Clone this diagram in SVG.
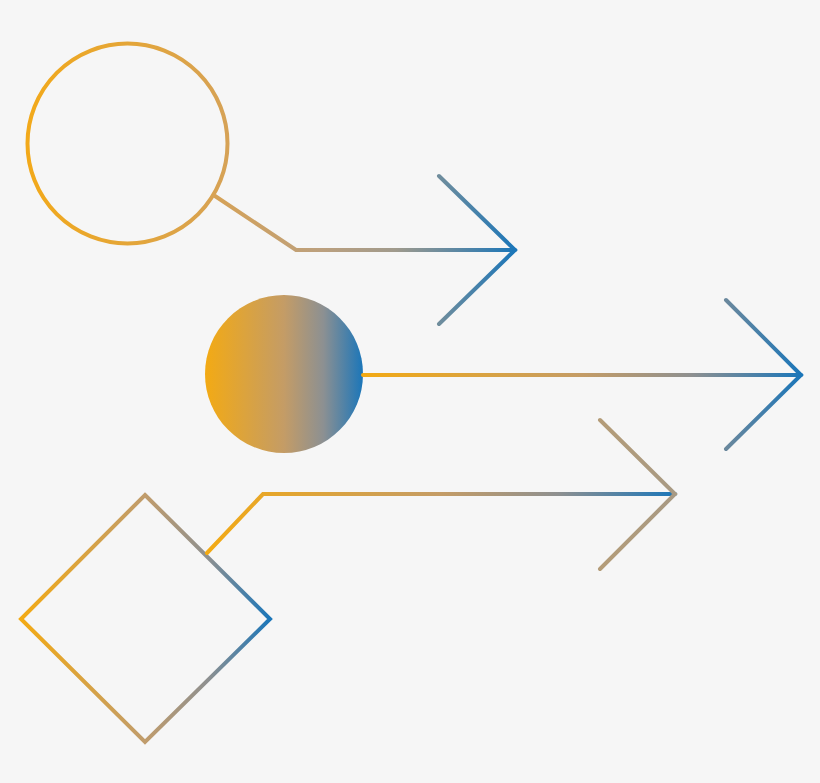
<svg xmlns="http://www.w3.org/2000/svg" width="820" height="783" viewBox="0 0 820 783">
  <defs>
    <linearGradient id="gCircle" gradientUnits="userSpaceOnUse" x1="27" y1="0" x2="228" y2="0">
      <stop offset="0" stop-color="#F2A91A"/>
      <stop offset="1" stop-color="#D6A256"/>
    </linearGradient>
    <linearGradient id="gDisc" gradientUnits="userSpaceOnUse" x1="205" y1="0" x2="363" y2="0">
      <stop offset="0" stop-color="#F3AA14"/>
      <stop offset="0.5" stop-color="#C49C66"/>
      <stop offset="0.75" stop-color="#8C9092"/>
      <stop offset="1" stop-color="#1B76B9"/>
    </linearGradient>
    <linearGradient id="gDiamond" gradientUnits="userSpaceOnUse" x1="21" y1="0" x2="270" y2="0">
      <stop offset="0" stop-color="#F3AA14"/>
      <stop offset="0.5" stop-color="#C09C6C"/>
      <stop offset="0.75" stop-color="#8E9090"/>
      <stop offset="1" stop-color="#1B76B9"/>
    </linearGradient>
    <linearGradient id="gLine1" gradientUnits="userSpaceOnUse" x1="215" y1="0" x2="515" y2="0">
      <stop offset="0" stop-color="#D6A256"/>
      <stop offset="0.35" stop-color="#BCA07E"/>
      <stop offset="0.6" stop-color="#A09A8C"/>
      <stop offset="1" stop-color="#1B76B9"/>
    </linearGradient>
    <linearGradient id="gLine2" gradientUnits="userSpaceOnUse" x1="363" y1="0" x2="801" y2="0">
      <stop offset="0" stop-color="#F3AA14"/>
      <stop offset="0.5" stop-color="#C49C66"/>
      <stop offset="0.75" stop-color="#8E9090"/>
      <stop offset="1" stop-color="#1B76B9"/>
    </linearGradient>
    <linearGradient id="gLine3" gradientUnits="userSpaceOnUse" x1="207" y1="0" x2="675" y2="0">
      <stop offset="0" stop-color="#F3AA14"/>
      <stop offset="0.5" stop-color="#C49C66"/>
      <stop offset="0.75" stop-color="#8E9090"/>
      <stop offset="1" stop-color="#1B76B9"/>
    </linearGradient>
    <linearGradient id="gHead3" gradientUnits="userSpaceOnUse" x1="599" y1="0" x2="675" y2="0">
      <stop offset="0" stop-color="#B49C78"/>
      <stop offset="1" stop-color="#A89A84"/>
    </linearGradient>
  </defs>
  <style>
    .ln { fill: none; stroke-width: 4; stroke-linecap: round; stroke-linejoin: miter; }
  </style>
  <rect width="820" height="783" fill="#F6F6F6"/>

  <g id="node-circle">
    <circle cx="127.5" cy="143.5" r="100" class="ln" stroke="url(#gCircle)"/>
  </g>
  <g id="node-disc">
    <circle cx="284" cy="374" r="79" fill="url(#gDisc)"/>
  </g>
  <g id="node-diamond">
    <polygon points="145,495 270,619 145,742 21,619" class="ln" stroke="url(#gDiamond)"/>
  </g>

  <g id="connectors">
    <polyline points="215,196 296,250 515,250" class="ln" stroke="url(#gLine1)"/>
    <polyline points="439,176 515,250 439,324" class="ln" stroke="url(#gLine1)"/>
    <line x1="363" y1="375" x2="801" y2="375" class="ln" stroke="url(#gLine2)"/>
    <polyline points="726,300 801,375 726,449" class="ln" stroke="url(#gLine2)"/>
    <polyline points="207,553 263,494 675,494" class="ln" stroke="url(#gLine3)"/>
    <polyline points="600,420 675,494 600,569" class="ln" stroke="url(#gHead3)"/>
  </g>
</svg>
